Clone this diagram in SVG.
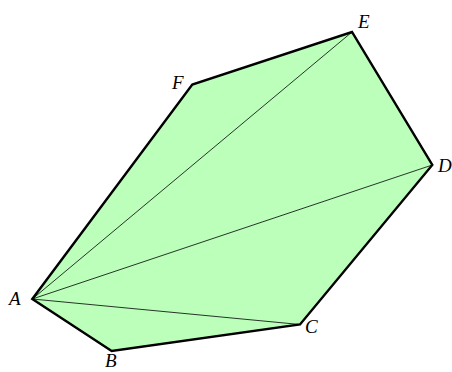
<svg xmlns="http://www.w3.org/2000/svg" width="452" height="372" viewBox="0 0 452 372">
<style>
.lbl{font-family:"Liberation Serif","DejaVu Serif",serif;font-style:italic;font-size:19px;fill:#000}
.diag{stroke:#000;stroke-width:0.8;fill:none}
</style>
<rect width="452" height="372" fill="#fff"/>
<g id="polygon">
<polygon points="32.3,299 111.7,351 300,324.5 432.3,165 352,32 192.3,84.5" fill="#bbffbb" stroke="#000" stroke-width="2.4" stroke-linejoin="miter"/>
</g>
<g id="connectors">
<line class="diag" x1="32.3" y1="299" x2="352" y2="32"/>
<line class="diag" x1="32.3" y1="299" x2="432.3" y2="165"/>
<line class="diag" x1="32.3" y1="299" x2="300" y2="324.5"/>
</g>
<g id="A"><text class="lbl" x="9" y="305">A</text></g>
<g id="B"><text class="lbl" x="105" y="367">B</text></g>
<g id="C"><text class="lbl" x="305" y="333">C</text></g>
<g id="D"><text class="lbl" x="438" y="172">D</text></g>
<g id="E"><text class="lbl" x="358" y="28">E</text></g>
<g id="F"><text class="lbl" x="172" y="89">F</text></g>
</svg>
